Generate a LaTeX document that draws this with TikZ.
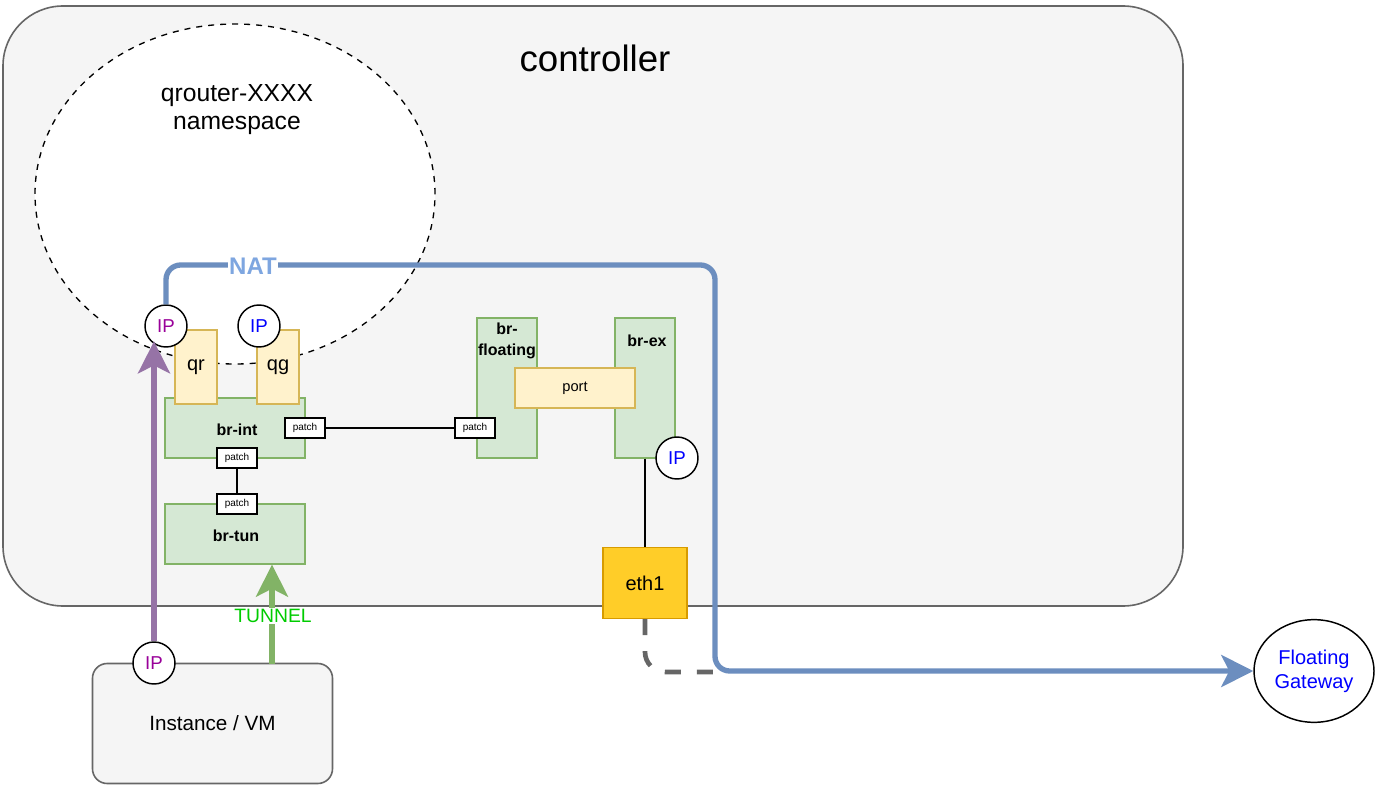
\documentclass[tikz,border=0pt]{standalone}
\usepackage{fontspec}
\setmainfont{Liberation Sans}
\usepackage{xcolor}
\usetikzlibrary{arrows.meta}
\usetikzlibrary{shapes.geometric}

\definecolor{boxgray}{HTML}{F5F5F5}
\definecolor{edgegray}{HTML}{666666}
\definecolor{brfill}{HTML}{D5E8D4}
\definecolor{brline}{HTML}{82B366}
\definecolor{ifill}{HTML}{FFF2CC}
\definecolor{iline}{HTML}{D6B656}
\definecolor{ethfill}{HTML}{FFCD28}
\definecolor{ethline}{HTML}{D79B00}
\definecolor{natblue}{HTML}{6C8EBF}
\definecolor{natlabel}{HTML}{7EA6E0}
\definecolor{vmpurple}{HTML}{9673A6}
\definecolor{tungreen}{HTML}{00CC00}
\definecolor{ipmagenta}{HTML}{990099}
\definecolor{ipblue}{HTML}{0000FF}

\tikzset{
  host/.style={draw=edgegray, fill=boxgray, line width=1.2pt, rounded corners=45pt, inner sep=0pt},
  ns/.style={ellipse, draw, fill=white, dash pattern=on 4.5pt off 4.5pt, line width=1pt, minimum width=300pt, minimum height=255pt, inner sep=0pt},
  bridge/.style={draw=brline, fill=brfill, line width=1pt, inner sep=0pt},
  brtext/.style={font=\fontsize{12}{15.5}\selectfont\bfseries, align=center, inner sep=0pt},
  iface/.style={draw=iline, fill=ifill, line width=1.2pt, inner sep=0pt},
  patchbox/.style={draw, fill=white, line width=1.3pt, minimum width=30pt, minimum height=15pt, inner sep=0pt, font=\fontsize{7.5}{9}\selectfont},
  ipdot/.style={circle, draw, fill=white, line width=1.1pt, minimum size=31.5pt, inner sep=0pt, font=\fontsize{14}{16}\selectfont},
  bigtip/.style={-{Stealth[length=24pt,width=24pt,inset=6pt]}},
  natline/.style={draw=natblue, line width=4pt, rounded corners=11pt, bigtip},
  vmline/.style={draw=vmpurple, line width=4pt, bigtip},
  tunline/.style={draw=brline, line width=4pt, bigtip},
  uplink/.style={draw=edgegray, line width=3.5pt, dash pattern=on 12pt off 12pt, rounded corners=15pt}
}

\begin{document}
\begin{tikzpicture}[x=0.75pt,y=-0.75pt]
\useasboundingbox (0,0) rectangle (1380,791);

% controller host
\node[host, minimum width=885pt, minimum height=450pt] (ctrl) at (593,306) {};
\node[font=\fontsize{27.5}{33}\selectfont] (ctrllbl) at (595,58) {controller};

% router namespace
\node[ns] (ns) at (235,194) {};
\node[font=\fontsize{18.5}{21}\selectfont, align=center] (nslbl) at (237,110) {qrouter-XXXX\\namespace};

% bridges
\node[bridge, minimum width=105pt, minimum height=45pt] (brint) at (235,428) {};
\node[brtext] (brintlbl) at (237,430) {br-int};
\node[bridge, minimum width=105pt, minimum height=45pt] (brtun) at (235,534) {};
\node[brtext] (brtunlbl) at (236,536) {br-tun};
\node[bridge, minimum width=45pt, minimum height=105pt] (brfloat) at (507,388) {};
\node[brtext] (brfloatlbl) at (507,341) {br-\\floating};
\node[bridge, minimum width=45pt, minimum height=105pt] (brex) at (645,388) {};
\node[brtext] (brexlbl) at (647,341) {br-ex};

% router ports and the port between the outer bridges
\node[iface, minimum width=31.5pt, minimum height=55.5pt, font=\fontsize{15}{18}\selectfont] (qr) at (196,367) {qr};
\node[iface, minimum width=31.5pt, minimum height=55.5pt, font=\fontsize{15}{18}\selectfont] (qg) at (278,367) {qg};
\node[iface, minimum width=90pt, minimum height=30pt, font=\fontsize{11}{13}\selectfont] (port) at (575,388) {port};

% patch ports
\node[patchbox] (pintr) at (305,428) {patch};
\node[patchbox] (pfloat) at (475,428) {patch};
\node[patchbox] (pintb) at (237,458) {patch};
\node[patchbox] (ptun) at (237,504) {patch};
\draw[line width=1pt] (pintr.east) -- (pfloat.west);
\draw[line width=1pt] (pintb.south) -- (ptun.north);

% addresses
\node[ipdot, text=ipmagenta] (qrip) at (166,326) {IP};
\node[ipdot, text=ipblue] (qgip) at (259,326) {IP};
\node[ipdot, text=ipblue] (exip) at (677,458) {IP};

% physical nic
\node[draw=ethline, fill=ethfill, line width=1.2pt, minimum width=63pt, minimum height=53pt, inner sep=0pt, font=\fontsize{15}{18}\selectfont] (eth1) at (645,583) {eth1};
\draw[line width=1pt] (brex.south) -- (eth1.north);

% instance and gateway
\node[draw=edgegray, fill=boxgray, line width=1.2pt, rounded corners=11pt, minimum width=180pt, minimum height=90pt, inner sep=0pt, font=\fontsize{15.5}{18}\selectfont] (vm) at (212.5,723.5) {Instance / VM};
\node[ipdot, text=ipmagenta] (vmip) at (154,663) {IP};
\node[ellipse, draw, fill=white, line width=1.1pt, minimum width=90pt, minimum height=77pt, inner sep=0pt, align=center, text=ipblue, font=\fontsize{15}{18}\selectfont] (gw) at (1314,671) {Floating\\Gateway};

% traffic
\coordinate (upend) at (725,672);
\draw[uplink] (eth1.south) |- (upend);
\coordinate (natR) at (715,265);
\draw[natline] (qrip.north) |- (natR) |- (gw.west);
\node[fill=white, inner sep=1pt, text=natlabel, font=\fontsize{18}{20}\selectfont\bfseries] (natlbl) at (253,266) {NAT};

\draw[vmline] (vmip.north) -- (vmip.north |- qrip.south west);

\coordinate (tunbase) at (272,664);
\draw[tunline] (tunbase) -- (tunbase |- brtun.south);
\node[fill=white, inner sep=1pt, text=tungreen, font=\fontsize{14.5}{17}\selectfont] (tunlbl) at (273,616) {TUNNEL};

\end{tikzpicture}
\end{document}
